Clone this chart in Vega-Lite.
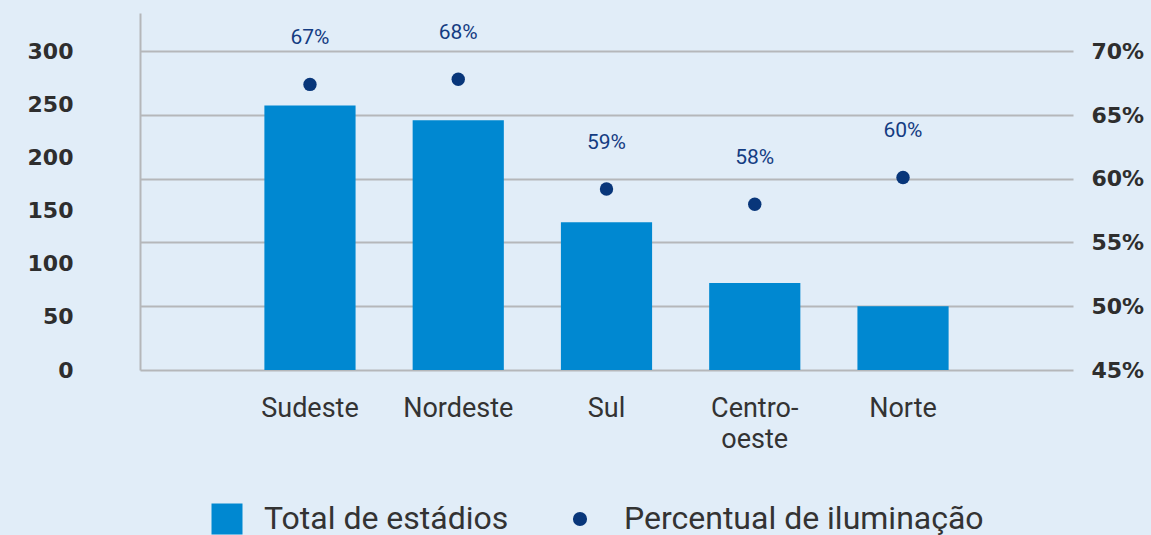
{
  "$schema": "https://vega.github.io/schema/vega-lite/v6.json",
  "width": 933,
  "height": 357,
  "autosize": "none",
  "padding": {"left": 140, "top": 13, "right": 78, "bottom": 165},
  "background": "#e1edf8",
  "config": {
    "view": {"stroke": null},
    "font": "Roboto",
    "legend": {"labelFont": "Roboto", "labelFontSize": 32, "labelColor": "#333333", "labelLimit": 0, "title": null}
  },
  "data": {
    "values": [
      {"regiao": "Sudeste", "total": 249, "pct": 67.4, "rotulo": "67%"},
      {"regiao": "Nordeste", "total": 235, "pct": 67.8, "rotulo": "68%"},
      {"regiao": "Sul", "total": 139, "pct": 59.2, "rotulo": "59%"},
      {"regiao": "Centro-oeste", "total": 82, "pct": 58.0, "rotulo": "58%"},
      {"regiao": "Norte", "total": 60, "pct": 60.1, "rotulo": "60%"}
    ]
  },
  "encoding": {
    "x": {
      "field": "regiao",
      "type": "nominal",
      "sort": null,
      "scale": {"paddingInner": 0.385, "paddingOuter": 0.839},
      "axis": {
        "title": null,
        "labelAngle": 0,
        "domain": false,
        "ticks": false,
        "labelPadding": 25,
        "labelFontSize": 27,
        "labelColor": "#333333",
        "labelLineHeight": 31,
        "labelExpr": "datum.value == 'Centro-oeste' ? ['Centro-', 'oeste'] : datum.value"
      }
    }
  },
  "layer": [
    {
      "mark": {"type": "bar", "color": "#0088d1"},
      "encoding": {
        "y": {
          "field": "total",
          "type": "quantitative",
          "scale": {"domain": [0, 336], "nice": false},
          "axis": {
            "orient": "left",
            "title": null,
            "values": [0, 50, 100, 150, 200, 250, 300],
            "grid": false,
            "domain": true,
            "domainColor": "#b5b7ba",
            "domainWidth": 2,
            "ticks": false,
            "labelPadding": 67,
            "labelFont": "DejaVu Sans",
            "labelFontSize": 22,
            "labelFontWeight": "bold",
            "labelColor": "#2e2e2e"
          }
        },
        "color": {
          "datum": "Total de estádios",
          "scale": {"range": ["#0088d1"]},
          "legend": {"orient": "none", "legendX": 71, "legendY": 490, "symbolType": "square", "symbolSize": 961, "symbolStrokeWidth": 0, "labelOffset": 21}
        }
      }
    },
    {
      "mark": {"type": "point", "filled": true, "size": 180, "opacity": 1},
      "encoding": {
        "y": {
          "field": "pct",
          "type": "quantitative",
          "scale": {"domain": [45, 73], "nice": false, "zero": false},
          "axis": {
            "orient": "right",
            "title": null,
            "values": [45, 50, 55, 60, 65, 70],
            "labelExpr": "datum.value + '%'",
            "grid": true,
            "gridColor": "#b5b7ba",
            "gridWidth": 2,
            "domain": false,
            "ticks": false,
            "labelPadding": 18,
            "labelFont": "DejaVu Sans",
            "labelFontSize": 22,
            "labelFontWeight": "bold",
            "labelColor": "#2e2e2e"
          }
        },
        "color": {
          "datum": "Percentual de iluminação",
          "scale": {"range": ["#08367a"]},
          "legend": {"orient": "none", "legendX": 424, "legendY": 490, "symbolType": "circle", "symbolSize": 200, "symbolStrokeWidth": 0, "labelOffset": 28}
        }
      }
    },
    {
      "mark": {"type": "text", "dy": -46, "fontSize": 21, "color": "#143c82"},
      "encoding": {
        "y": {
          "field": "pct",
          "type": "quantitative",
          "scale": {"domain": [45, 73], "nice": false, "zero": false},
          "axis": null
        },
        "text": {"field": "rotulo"}
      }
    }
  ],
  "resolve": {
    "scale": {"y": "independent", "color": "independent"},
    "legend": {"color": "independent"}
  }
}
